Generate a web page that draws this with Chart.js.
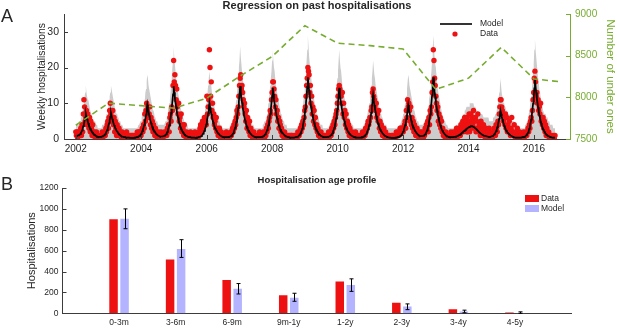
<!DOCTYPE html>
<html>
<head>
<meta charset="utf-8">
<script src="https://cdn.jsdelivr.net/npm/chart.js@4.4.0/dist/chart.umd.min.js"></script>
<style>
  html, body { margin: 0; padding: 0; background: #fff; }
  #wrap { position: relative; width: 617px; height: 328px; }
  canvas { position: absolute; left: 0; }
  #chartA { top: 0; }
  #chartB { top: 160px; }
</style>
</head>
<body>
<div id="wrap">
  <canvas id="chartA" width="617" height="160"></canvas>
  <canvas id="chartB" width="617" height="168"></canvas>
</div>
<script>
// ---- Panel A: weekly hospitalisations, one array per calendar year (week 0 = first week of the year)
const data02 = [2,1,2,0,2,1,2,2,3,1, 4,2,7,11,9,5,6,8,4,7, 5,3,6,2,5,3,1,4,2,1, 2,0,1,2,0,1,1,0,1,0, 0,1,2,0,1,1,2,1,3,2, 4,5];
const data03 = [3,6,8,10,7,8,5,8,4,6, 2,5,3,1,4,2,1,3,1,2, 1,0,2,1,0,1,1,1,0,2, 1,0,1,1,0,1,0,1,1,0, 1,0,1,0,1,1,2,0,1,2, 2,1];
const data04 = [1,2,3,2,4,3,7,5,8,10, 8,9,6,7,9,4,6,3,5,2, 4,2,1,3,1,2,0,1,2,1, 0,1,2,0,1,0,1,2,1,1, 2,1,3,2,4,2,6,7,5,9, 8,15];
const data05 = [22,16,18,15,11,14,9,7,10,5, 6,3,7,2,4,3,1,4,2,1, 0,2,1,0,1,1,0,2,1,0, 1,0,1,0,2,1,0,1,1,0, 2,1,3,4,2,3,5,3,4,6, 4,5];
const data06 = [4,12,7,9,11,25,20,12,16,8, 10,6,7,4,5,3,6,2,3,1, 2,3,1,0,2,1,0,1,1,0, 1,0,2,1,0,1,1,0,1,2, 1,2,3,2,4,3,5,4,6,8, 7,9];
const data07 = [12,15,17,18,14,15,13,11,9,10, 7,5,8,3,6,4,2,5,1,3, 1,2,0,1,2,0,1,0,1,1, 0,1,0,2,1,0,1,1,0,2, 1,0,2,1,3,2,4,3,5,6, 8,7];
const data08 = [11,13,16,16,14,12,9,11,7,8, 5,6,3,5,4,2,3,1,2,1, 0,2,1,0,1,1,0,1,0,1, 0,1,1,0,1,0,0,1,1,0, 1,0,2,1,1,2,3,2,4,3, 5,4];
const data09 = [6,8,9,12,15,17,20,19,18,13, 15,10,12,7,9,5,8,4,6,3, 4,2,3,1,2,1,0,2,1,0, 1,0,1,1,0,1,0,1,1,2, 0,1,2,1,3,2,4,3,5,4, 6,7];
const data10 = [8,10,12,14,15,14,13,12,10,13, 7,10,6,8,4,7,3,5,2,4, 1,3,2,1,0,2,1,1,0,1, 2,0,1,0,1,1,0,1,0,1, 1,2,0,1,2,1,3,2,3,4, 5,4];
const data11 = [5,6,6,8,9,13,14,12,11,9, 8,10,6,7,5,8,3,5,2,4, 3,1,2,3,1,0,2,0,1,1, 0,1,1,0,0,1,0,1,1,0, 0,1,0,2,1,1,2,1,2,3, 2,3];
const data12 = [3,2,2,3,4,5,3,8,6,11, 9,10,8,5,9,4,6,3,5,2, 4,3,1,2,3,1,2,0,1,2, 1,0,2,1,0,2,1,3,2,4, 3,5,2,6,4,8,7,9,13,16, 25,22];
const data13 = [17,15,12,10,8,9,5,7,4,6, 3,5,2,3,1,2,1,0,2,1, 0,1,0,1,1,0,2,0,1,1, 2,1,0,2,1,3,0,2,1,3, 2,1,4,2,3,5,2,4,6,3, 5,2];
const data14 = [6,2,4,7,2,5,7,3,6,4, 8,5,3,6,2,5,3,7,2,4, 3,1,5,2,1,3,4,1,2,0, 3,1,0,2,1,3,0,1,2,1, 0,2,1,3,2,1,4,3,2,5, 4,7];
const data15 = [9,11,11,9,8,7,5,6,4,7, 3,6,2,4,3,5,2,1,3,6, 2,1,2,4,1,0,2,1,3,1, 0,1,2,0,1,1,0,1,2,0, 1,1,2,1,2,3,2,4,3,5, 6,5];
const data16 = [8,11,13,17,19,16,12,13,10,11, 8,9,7,10,5,6,4,6,3,5, 2,4,1,3,2,1,2,0,1,1, 0,1,0,0,1,0,1];

// model mean, same weeks
const model02 = [0.9,0.9,0.9,0.9,1.0,1.1,1.2,1.4,1.7,2.0, 2.4,3.0,3.6,4.2,5.1,6.0,7.1,6.3,5.5,4.9, 4.4,3.8,3.4,3.0,2.6,2.3,2.0,1.7,1.5,1.3, 1.2,1.1,0.9,0.8,0.7,0.6,0.6,0.6,0.6,0.6, 0.6,0.6,0.7,0.8,0.8,1.0,1.2,1.4,1.7,2.1, 2.5,3.0];
const model03 = [3.7,4.4,5.2,6.2,7.3,6.5,5.7,5.1,4.5,3.9, 3.5,3.0,2.7,2.3,2.1,1.8,1.6,1.4,1.2,1.1, 0.9,0.8,0.7,0.7,0.6,0.5,0.5,0.5,0.4,0.4, 0.4,0.4,0.4,0.4,0.4,0.3,0.3,0.3,0.3,0.3, 0.3,0.3,0.4,0.4,0.4,0.5,0.5,0.6,0.7,0.8, 1.0,1.1];
const model04 = [1.4,1.7,2.2,2.6,3.2,3.9,4.8,5.7,6.8,8.1, 9.6,8.5,7.5,6.6,5.9,5.1,4.5,3.9,3.5,3.0, 2.6,2.3,2.0,1.7,1.5,1.3,1.1,1.0,0.9,0.8, 0.7,0.7,0.7,0.7,0.7,0.7,0.8,0.9,1.0,1.1, 1.3,1.6,2.0,2.6,3.2,3.9,4.8,6.0,7.3,8.7, 10.5,12.5];
const model05 = [14.8,13.1,11.5,10.2,9.0,7.8,6.8,6.0,5.2,4.5, 3.9,3.4,2.9,2.5,2.2,1.9,1.6,1.4,1.2,1.0, 0.9,0.8,0.7,0.6,0.6,0.5,0.5,0.5,0.4,0.4, 0.4,0.4,0.4,0.4,0.4,0.3,0.3,0.4,0.4,0.5, 0.5,0.6,0.6,0.7,0.8,1.0,1.2,1.5,1.8,2.3, 2.8,3.3];
const model06 = [4.1,5.0,6.0,7.2,8.5,10.1,8.9,7.9,7.0,6.2, 5.4,4.7,4.1,3.6,3.1,2.8,2.4,2.1,1.8,1.6, 1.4,1.2,1.0,0.9,0.8,0.7,0.6,0.6,0.5,0.5, 0.5,0.5,0.5,0.5,0.5,0.5,0.6,0.6,0.7,0.8, 0.9,1.1,1.3,1.6,2.0,2.6,3.2,3.9,4.8,6.0, 7.3,8.7];
const model07 = [10.5,12.5,14.8,13.1,11.5,10.2,9.0,7.8,6.8,6.0, 5.2,4.5,3.9,3.4,2.9,2.5,2.2,1.9,1.6,1.4, 1.2,1.0,0.9,0.8,0.7,0.6,0.6,0.5,0.5,0.5, 0.5,0.5,0.5,0.5,0.5,0.5,0.6,0.6,0.7,0.8, 0.9,1.1,1.3,1.6,2.0,2.5,3.1,3.8,4.6,5.8, 7.0,8.4];
const model08 = [10.1,12.1,14.3,12.6,11.1,9.8,8.7,7.6,6.6,5.8, 5.1,4.4,3.8,3.2,2.8,2.4,2.1,1.8,1.6,1.4, 1.2,1.0,0.9,0.8,0.7,0.6,0.6,0.5,0.5,0.4, 0.4,0.4,0.4,0.4,0.4,0.4,0.4,0.4,0.5,0.5, 0.6,0.6,0.7,0.8,1.0,1.2,1.5,1.8,2.3,2.9, 3.7,4.6];
const model09 = [5.6,6.9,8.5,10.2,12.2,14.6,17.3,15.3,13.4,11.9, 10.5,9.1,8.0,6.9,6.1,5.2,4.6,3.9,3.4,2.9, 2.5,2.2,1.8,1.6,1.4,1.2,1.0,0.9,0.8,0.7, 0.6,0.6,0.5,0.5,0.5,0.5,0.5,0.6,0.6,0.6, 0.7,0.8,0.9,1.1,1.3,1.6,2.0,2.5,3.1,3.8, 4.6,5.8];
const model10 = [7.0,8.4,10.1,12.1,14.3,12.6,11.1,9.8,8.7,7.6, 6.6,5.8,5.1,4.4,3.8,3.2,2.8,2.4,2.1,1.8, 1.6,1.4,1.2,1.0,0.9,0.8,0.7,0.6,0.6,0.5, 0.5,0.4,0.4,0.4,0.4,0.4,0.4,0.4,0.4,0.4, 0.5,0.5,0.6,0.7,0.8,1.0,1.1,1.4,1.7,2.2, 2.7,3.3];
const model11 = [4.0,5.0,6.1,7.3,8.7,10.4,12.3,10.9,9.5,8.5, 7.5,6.5,5.7,5.0,4.4,3.8,3.3,2.8,2.5,2.1, 1.9,1.6,1.4,1.2,1.0,0.9,0.8,0.7,0.6,0.6, 0.5,0.5,0.4,0.4,0.4,0.3,0.3,0.3,0.3,0.3, 0.3,0.3,0.4,0.4,0.4,0.5,0.5,0.6,0.7,0.8, 0.9,1.1];
const model12 = [1.4,1.7,2.1,2.6,3.2,3.9,4.7,5.6,6.7,8.0, 9.5,8.4,7.4,6.6,5.8,5.1,4.4,3.9,3.4,3.0, 2.6,2.2,2.0,1.7,1.5,1.3,1.2,1.0,0.9,0.8, 0.8,0.8,0.8,0.8,0.9,1.0,1.1,1.3,1.6,1.9, 2.4,3.0,3.7,4.6,5.6,6.9,8.5,10.2,12.2,14.6, 17.3,15.3];
const model13 = [13.4,11.9,10.5,9.1,8.0,6.9,6.1,5.2,4.6,3.9, 3.4,2.9,2.5,2.2,1.8,1.6,1.4,1.2,1.0,0.9, 0.8,0.7,0.6,0.6,0.5,0.5,0.5,0.5,0.5,0.5, 0.5,0.6,0.6,0.6,0.7,0.7,0.8,0.9,1.0,1.1, 1.2,1.3,1.5,1.6,1.8,1.9,2.1,2.2,2.4,2.5, 2.7,2.8];
const model14 = [3.0,3.1,3.2,3.3,3.4,3.5,3.6,3.6,3.6,3.5, 3.4,3.3,3.2,3.0,2.9,2.7,2.5,2.3,2.1,1.9, 1.8,1.6,1.5,1.3,1.2,1.1,1.0,0.9,0.9,0.9, 0.8,0.8,0.7,0.7,0.6,0.6,0.6,0.6,0.7,0.7, 0.8,0.9,1.0,1.3,1.5,1.8,2.2,2.7,3.3,4.0, 4.8,5.7];
const model15 = [6.8,8.0,7.1,6.2,5.5,4.9,4.3,3.8,3.3,2.9, 2.5,2.2,1.9,1.7,1.5,1.3,1.2,1.0,0.9,0.8, 0.7,0.6,0.6,0.5,0.5,0.4,0.4,0.4,0.4,0.4, 0.4,0.4,0.4,0.4,0.4,0.4,0.5,0.5,0.6,0.6, 0.7,0.8,1.0,1.2,1.5,1.8,2.3,2.9,3.6,4.4, 5.4,6.7];
const model16 = [8.2,9.9,11.9,14.2,16.8,14.8,13.0,11.5,10.2,8.9, 7.7,6.7,5.9,5.1,4.4,3.8,3.3,2.8,2.5,2.1, 1.8,1.5,1.3,1.1,1.0,0.9,0.8,0.7,0.6,0.6, 0.5,0.5,0.4,0.4,0.4,0.4,0.4];

// upper edge of the grey model interval
const upper02 = [4,4,4,4,4,5,5,5,6,6, 7,8,9,10,12,13,15,13,12,11, 11,10,9,8,8,7,6,6,5,5, 5,5,4,4,4,3,3,3,3,3, 3,3,4,4,4,4,5,5,6,7, 7,8];
const upper03 = [9,11,12,13,15,14,13,12,11,10, 9,8,8,7,7,6,6,5,5,5, 4,4,4,4,3,3,3,3,3,3, 3,3,3,3,3,3,3,3,3,3, 3,3,3,3,3,3,3,3,4,4, 4,5];
const upper04 = [5,6,7,8,9,10,11,13,14,16, 18,17,15,14,13,12,11,10,9,8, 8,7,6,6,5,5,5,4,4,4, 4,4,4,4,4,4,4,4,4,5, 5,6,6,8,9,10,11,13,15,17, 20,22];
const upper05 = [26,23,21,19,17,16,14,13,12,11, 10,9,8,7,7,6,6,5,5,4, 4,4,4,3,3,3,3,3,3,3, 3,3,3,3,3,3,3,3,3,3, 3,3,3,4,4,4,5,5,6,7, 8,9];
const upper06 = [10,12,13,15,17,19,17,16,15,13, 12,11,10,9,8,8,7,7,6,6, 5,5,4,4,4,4,3,3,3,3, 3,3,3,3,3,3,3,3,4,4, 4,5,5,6,6,8,9,10,11,13, 15,17];
const upper07 = [20,22,26,23,21,19,17,16,14,13, 12,11,10,9,8,7,7,6,6,5, 5,4,4,4,4,3,3,3,3,3, 3,3,3,3,3,3,3,3,4,4, 4,5,5,6,6,7,8,10,11,13, 15,17];
const upper08 = [19,22,25,22,20,19,17,15,14,13, 12,11,10,9,8,7,7,6,6,5, 5,4,4,4,4,3,3,3,3,3, 3,3,3,3,3,3,3,3,3,3, 3,3,4,4,4,5,5,6,7,8, 9,11];
const upper09 = [12,14,17,19,22,25,29,26,23,21, 20,18,16,14,13,12,11,10,9,8, 7,7,6,6,5,5,4,4,4,4, 3,3,3,3,3,3,3,3,3,3, 4,4,4,5,5,6,6,7,8,10, 11,13];
const upper10 = [15,17,19,22,25,22,20,19,17,15, 14,13,12,11,10,9,8,7,7,6, 6,5,5,4,4,4,4,3,3,3, 3,3,3,3,3,3,3,3,3,3, 3,3,3,4,4,4,5,5,6,7, 8,9];
const upper11 = [10,12,13,15,17,19,22,20,18,17, 15,14,13,12,11,10,9,8,7,7, 6,6,5,5,4,4,4,4,3,3, 3,3,3,3,3,3,3,3,3,3, 3,3,3,3,3,3,3,3,4,4, 4,5];
const upper12 = [5,6,7,8,9,10,11,12,14,16, 18,17,15,14,13,12,11,10,9,8, 8,7,6,6,5,5,5,4,4,4, 4,4,4,4,4,4,5,5,6,6, 7,8,9,11,12,14,17,19,22,25, 29,26];
const upper13 = [23,21,20,18,16,14,13,12,11,10, 9,8,7,7,6,6,5,5,4,4, 4,4,3,3,3,3,3,3,3,3, 3,3,3,3,4,4,4,4,4,5, 5,5,5,6,6,6,7,7,8,8, 8,9];
const upper14 = [9,9,9,9,10,10,10,10,10,10, 10,9,9,9,8,8,8,8,7,7, 7,7,7,7,7,7,6,6,6,6, 6,6,6,6,6,5,5,5,5,5, 5,6,6,6,6,7,7,8,9,10, 11,13];
const upper15 = [14,17,15,13,12,11,10,10,9,9, 8,8,8,7,7,7,7,6,6,6, 5,5,5,5,4,4,4,4,3,3, 3,3,3,3,3,3,3,3,3,3, 4,4,4,5,5,6,7,8,9,11, 12,14];
const upper16 = [16,19,21,25,28,25,23,21,19,17, 16,14,13,12,11,10,9,8,8,7, 7,7,6,6,6,5,5,5,4,4, 4,4,4,3,3,3,3];

// number of under ones (right axis)
const popYears = [2002, 2003, 2004, 2005, 2006, 2007, 2008, 2009, 2010, 2011, 2012, 2013, 2014, 2015, 2016, 2016.75];
const underOnes = [7665, 7930, 7900, 7870, 7990, 8250, 8490, 8860, 8650, 8620, 8580, 8095, 8230, 8600, 8220, 8190];

const yearTicks = [2002, 2004, 2006, 2008, 2010, 2012, 2014, 2016];
const weeklyTicks = [0, 10, 20, 30];
const popTicks = [7500, 8000, 8500, 9000];

// ---- Panel B: age profile
const ageGroups = ['0-3m', '3-6m', '6-9m', '9m-1y', '1-2y', '2-3y', '3-4y', '4-5y'];
const ageData = [900, 515, 320, 172, 304, 102, 38, 8];
const ageModel = [905, 615, 235, 150, 272, 65, 17, 3];
const ageModelLow = [810, 535, 185, 115, 210, 35, 5, 0];
const ageModelHigh = [1000, 705, 285, 192, 330, 90, 30, 14];
const ageTicks = [0, 200, 400, 600, 800, 1000, 1200];

const FONT = "'Liberation Sans', Arial, Helvetica, sans-serif";
const TEXT = "#262626";
const AXIS = "#3c3c3c";
const GREEN = "#77ac30";
const RED = "#ee1111";
const LAVENDER = "#b3b3ff";

Chart.defaults.font.family = FONT;
Chart.defaults.color = TEXT;

const hospData = [].concat(data02, data03, data04, data05, data06, data07, data08, data09, data10, data11, data12, data13, data14, data15, data16);
const modelFit = [].concat(model02, model03, model04, model05, model06, model07, model08, model09, model10, model11, model12, model13, model14, model15, model16);
const modelUpper = [].concat(upper02, upper03, upper04, upper05, upper06, upper07, upper08, upper09, upper10, upper11, upper12, upper13, upper14, upper15, upper16);

// week index -> decimal year
const weekYear = i => 2002 + i * 7 / 365.25;
const toPoints = arr => arr.map((y, i) => ({ x: weekYear(i), y }));

function inwardTicks(ctx, scale, values, len, color) {
    ctx.save();
    ctx.strokeStyle = color;
    ctx.lineWidth = 1;
    ctx.beginPath();
    values.forEach(v => {
        const p = Math.round(scale.getPixelForValue(v)) + 0.5;
        if (scale.position === 'left') {
            ctx.moveTo(scale.right, p); ctx.lineTo(scale.right + len, p);
        } else if (scale.position === 'right') {
            ctx.moveTo(scale.left, p); ctx.lineTo(scale.left - len, p);
        } else {
            ctx.moveTo(p, scale.top); ctx.lineTo(p, scale.top - len);
        }
    });
    ctx.stroke();
    ctx.restore();
}

// title, panel letter, legend and tick marks for panel A
const panelA = {
    id: 'panelA',
    afterDraw(chart) {
        const { ctx, chartArea, scales } = chart;
        inwardTicks(ctx, scales.y, weeklyTicks, 4, AXIS);
        inwardTicks(ctx, scales.x, yearTicks, 4, AXIS);
        inwardTicks(ctx, scales.y2, popTicks, 4, GREEN);

        ctx.save();
        ctx.fillStyle = TEXT;
        ctx.textBaseline = 'middle';
        ctx.textAlign = 'center';
        ctx.font = `bold 11px ${FONT}`;
        ctx.fillText('Regression on past hospitalisations', (chartArea.left + chartArea.right) / 2, 6);

        ctx.textAlign = 'left';
        ctx.font = `18px ${FONT}`;
        ctx.fillText('A', 1, 17);

        // legend
        ctx.strokeStyle = '#000';
        ctx.lineWidth = 1.6;
        ctx.beginPath();
        ctx.moveTo(440, 24); ctx.lineTo(472, 24);
        ctx.stroke();
        ctx.fillStyle = RED;
        ctx.beginPath();
        ctx.arc(455, 34, 2.6, 0, Math.PI * 2);
        ctx.fill();
        ctx.fillStyle = TEXT;
        ctx.font = `8.5px ${FONT}`;
        ctx.fillText('Model', 480, 24);
        ctx.fillText('Data', 480, 34);
        ctx.restore();
    }
};

new Chart(document.getElementById('chartA'), {
    type: 'line',
    data: {
        datasets: [
            {
                label: 'Number of under ones',
                data: popYears.map((x, i) => ({ x, y: underOnes[i] })),
                yAxisID: 'y2',
                borderColor: GREEN,
                borderWidth: 1.6,
                borderDash: [6, 4],
                pointRadius: 0,
                order: 0
            },
            {
                label: 'Model',
                data: toPoints(modelFit),
                yAxisID: 'y',
                borderColor: '#000',
                borderWidth: 1.7,
                pointRadius: 0,
                order: 1
            },
            {
                label: 'Data',
                data: toPoints(hospData),
                yAxisID: 'y',
                showLine: false,
                pointRadius: 2.7,
                pointBorderWidth: 0,
                pointBackgroundColor: RED,
                order: 2
            },
            {
                label: 'Model interval',
                data: toPoints(modelUpper),
                yAxisID: 'y',
                borderWidth: 0,
                pointRadius: 0,
                fill: 'origin',
                backgroundColor: '#cccccc',
                order: 3
            }
        ]
    },
    options: {
        responsive: false,
        animation: false,
        events: [],
        layout: { padding: { top: 14, left: 0, right: 0, bottom: 0 } },
        plugins: { legend: { display: false }, tooltip: { enabled: false } },
        scales: {
            x: {
                type: 'linear',
                min: 2001.64,
                max: 2017.1,
                afterBuildTicks: s => { s.ticks = yearTicks.map(value => ({ value })); },
                afterFit: s => { s.height = 21; },
                grid: { display: false, drawTicks: false },
                border: { color: AXIS, width: 1 },
                ticks: { autoSkip: false, maxRotation: 0, padding: 4, font: { size: 10 }, color: TEXT, callback: v => String(v) }
            },
            y: {
                position: 'left',
                min: 0,
                max: 35,
                afterBuildTicks: s => { s.ticks = weeklyTicks.map(value => ({ value })); },
                afterFit: s => { s.width = 64; },
                grid: { display: false, drawTicks: false },
                border: { color: AXIS, width: 1 },
                ticks: { padding: 5, font: { size: 10.5 }, color: TEXT },
                title: { display: true, text: 'Weekly hospitalisations', font: { size: 10.3 }, color: TEXT, padding: { top: 35.5, bottom: 0 } }
            },
            y2: {
                position: 'right',
                min: 7500,
                max: 9000,
                afterBuildTicks: s => { s.ticks = popTicks.map(value => ({ value })); },
                afterFit: s => { s.width = 47; },
                grid: { display: false, drawTicks: false },
                border: { color: GREEN, width: 1 },
                ticks: { padding: 5, font: { size: 10 }, color: GREEN, callback: v => String(v) },
                title: { display: true, text: 'Number of under ones', font: { size: 11.5 }, color: GREEN, padding: { top: 0, bottom: 0 } }
            }
        }
    },
    plugins: [panelA]
});

// error bars, title, letter and legend for panel B
const panelB = {
    id: 'panelB',
    afterDatasetsDraw(chart) {
        const { ctx, scales } = chart;
        const bars = chart.getDatasetMeta(1).data;
        ctx.save();
        ctx.strokeStyle = '#000';
        ctx.lineWidth = 1;
        bars.forEach((bar, i) => {
            const x = Math.round(bar.x) + 0.5;
            const lo = scales.y.getPixelForValue(ageModelLow[i]);
            const hi = scales.y.getPixelForValue(ageModelHigh[i]);
            ctx.beginPath();
            ctx.moveTo(x, lo); ctx.lineTo(x, hi);
            ctx.moveTo(x - 2, lo); ctx.lineTo(x + 2, lo);
            ctx.moveTo(x - 2, hi); ctx.lineTo(x + 2, hi);
            ctx.stroke();
        });
        ctx.restore();
    },
    afterDraw(chart) {
        const { ctx, chartArea, scales } = chart;
        inwardTicks(ctx, scales.y, ageTicks, 4, AXIS);

        ctx.save();
        ctx.fillStyle = TEXT;
        ctx.textBaseline = 'middle';
        ctx.textAlign = 'center';
        ctx.font = `bold 9.5px ${FONT}`;
        ctx.fillText('Hospitalisation age profile', (chartArea.left + chartArea.right) / 2, 20);

        ctx.textAlign = 'left';
        ctx.font = `18px ${FONT}`;
        ctx.fillText('B', 1, 25);

        ctx.fillStyle = RED;
        ctx.fillRect(525, 35, 14, 7);
        ctx.fillStyle = LAVENDER;
        ctx.fillRect(525, 45, 14, 7);
        ctx.fillStyle = TEXT;
        ctx.font = `8.5px ${FONT}`;
        ctx.fillText('Data', 541, 38.5);
        ctx.fillText('Model', 541, 48.5);
        ctx.restore();
    }
};

new Chart(document.getElementById('chartB'), {
    type: 'bar',
    data: {
        datasets: [
            {
                label: 'Data',
                data: ageData.map((y, i) => ({ x: i + 1, y })),
                backgroundColor: RED,
                categoryPercentage: 0.39,
                barPercentage: 0.77
            },
            {
                label: 'Model',
                data: ageModel.map((y, i) => ({ x: i + 1, y })),
                backgroundColor: LAVENDER,
                categoryPercentage: 0.39,
                barPercentage: 0.77
            }
        ]
    },
    options: {
        responsive: false,
        animation: false,
        events: [],
        layout: { padding: { top: 28, left: 0, right: 45.5, bottom: 0 } },
        plugins: { legend: { display: false }, tooltip: { enabled: false } },
        scales: {
            x: {
                type: 'linear',
                min: 0,
                max: 9,
                offset: false,
                afterBuildTicks: s => { s.ticks = ageGroups.map((g, i) => ({ value: i + 1 })); },
                afterFit: s => { s.height = 14.7; },
                grid: { display: false, drawTicks: false },
                border: { color: AXIS, width: 1 },
                ticks: { autoSkip: false, maxRotation: 0, padding: 4, font: { size: 8.5 }, color: TEXT, callback: v => ageGroups[v - 1] }
            },
            y: {
                min: 0,
                max: 1200,
                afterBuildTicks: s => { s.ticks = ageTicks.map(value => ({ value })); },
                afterFit: s => { s.width = 62.5; },
                grid: { display: false, drawTicks: false },
                border: { color: AXIS, width: 1 },
                ticks: { padding: 4, font: { size: 8.5 }, color: TEXT, callback: v => String(v) },
                title: { display: true, text: 'Hospitalisations', font: { size: 11 }, color: TEXT, padding: { top: 25.4, bottom: 0 } }
            }
        }
    },
    plugins: [panelB]
});
</script>
</body>
</html>
